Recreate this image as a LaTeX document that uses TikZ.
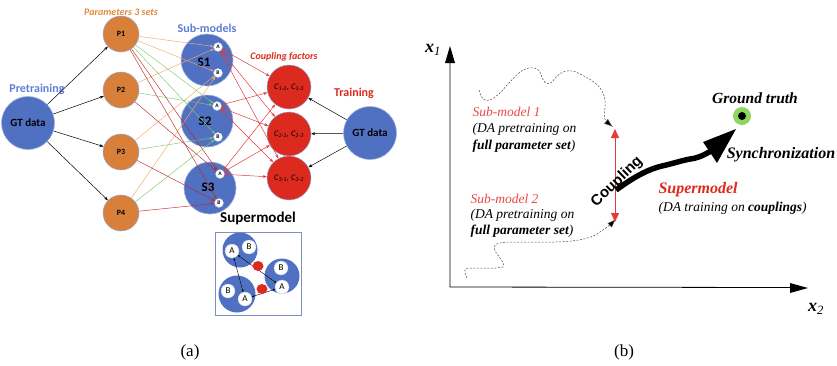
\documentclass[tikz,border=0pt]{standalone}
\usepackage{fontspec}
\setmainfont{Liberation Serif}
\newfontfamily\calfont{Carlito}
\newfontfamily\arialfont{Liberation Sans}
\usetikzlibrary{arrows.meta,shapes.geometric}
\definecolor{nodeblue}{HTML}{5070C2}
\definecolor{labblue}{HTML}{5B7FD6}
\definecolor{porange}{HTML}{D8803A}
\definecolor{labor}{HTML}{E08A40}
\definecolor{cred}{HTML}{DC2A1E}
\definecolor{eorange}{HTML}{F2A868}
\definecolor{egreen}{HTML}{80C86C}
\definecolor{ered}{HTML}{C0282A}
\definecolor{gtgreen}{HTML}{8ED65E}
\definecolor{bred}{HTML}{E8393A}
\definecolor{txtred}{HTML}{E84848}
\definecolor{boxcol}{HTML}{8090C0}
\tikzset{
  bignode/.style={circle, fill=nodeblue, draw=nodeblue!55!white, line width=0.6pt, minimum size=53pt, inner sep=0pt, font=\calfont\bfseries\fontsize{11}{11}\selectfont},
  pnode/.style={circle, fill=porange, draw=nodeblue!60, line width=0.5pt, minimum size=36pt, inner sep=0pt, font=\calfont\bfseries\fontsize{8}{8}\selectfont},
  snode/.style={circle, fill=nodeblue, draw=nodeblue!55!white, line width=0.6pt, minimum size=52pt, inner sep=0pt, font=\calfont\bfseries\fontsize{13}{13}\selectfont},
  abnode/.style={circle, fill=white, draw=nodeblue!40, line width=0.3pt, minimum size=9pt, inner sep=0pt, font=\calfont\bfseries\fontsize{5.5}{5.5}\selectfont},
  cnode/.style={circle, fill=cred, draw=nodeblue!60, line width=0.5pt, minimum size=44pt, inner sep=0pt, font=\calfont\itshape\fontsize{8.5}{8.5}\selectfont},
  inbig/.style={circle, fill=nodeblue, minimum size=35pt, inner sep=0pt},
  insmall/.style={circle, fill=white, draw=nodeblue!40, line width=0.3pt, minimum size=14pt, inner sep=0pt, font=\calfont\fontsize{9}{9}\selectfont},
  inred/.style={ellipse, fill=cred, minimum width=11pt, minimum height=10pt, inner sep=0pt},
  pedge/.style={-{Stealth[length=3.5pt,width=2.5pt]}, line width=0.45pt},
  cedge/.style={{Stealth[length=4pt,width=3pt]}-{Stealth[length=4pt,width=3pt]}, line width=0.5pt, color=bred},
  kedge/.style={-{Stealth[length=4pt,width=3pt]}, line width=0.5pt, color=black},
  lab/.style={font=\calfont\bfseries\fontsize{12}{12}\selectfont},
  rtext/.style={anchor=west, align=left, font=\itshape\fontsize{13.5}{16.5}\selectfont},
  dpath/.style={dashed, dash pattern=on 2pt off 1.5pt, line width=0.5pt, draw=black!70, -{Latex[length=9pt,width=6pt,fill=black]}},
}
\begin{document}
\begin{tikzpicture}[x=1pt,y=-1pt]
\useasboundingbox (0,0) rectangle (837,365);
% ---------- panel (a) ----------
\node[bignode] (gtl) at (28,123) {GT data};
\node[lab, text=labblue] (pretr) at (37,89) {Pretraining};
\node[font=\calfont\bfseries\itshape\fontsize{10}{10}\selectfont, text=labor] (ptitle) at (121,12) {Parameters 3 sets};
\node[pnode] (p1) at (121,34) {P1};
\node[pnode] (p2) at (121,90) {P2};
\node[pnode] (p3) at (121,152) {P3};
\node[pnode] (p4) at (121,213) {P4};
\foreach \p in {p1,p2,p3,p4} \draw[kedge] (gtl) -- (\p);
\node[lab, text=labblue] (stitle) at (207,28) {Sub-models};
\node[snode] (s1) at (207,60) {};
\node[snode] (s2) at (207,121) {};
\node[snode] (s3) at (210,188) {};
\node[font=\calfont\bfseries\fontsize{13}{13}\selectfont] at (204,62) {S1};
\node[font=\calfont\bfseries\fontsize{13}{13}\selectfont] at (205,121) {S2};
\node[font=\calfont\bfseries\fontsize{13}{13}\selectfont] at (208,187) {S3};
\node[abnode] (a1) at (218,47) {A};
\node[abnode] (b1) at (218,73) {B};
\node[abnode] (a2) at (217,106) {A};
\node[abnode] (b2) at (218,137) {B};
\node[abnode] (a3) at (220,174) {A};
\node[abnode] (b3) at (219,203) {B};
% parameter edges
\foreach \s/\t in {p1/a1,p1/b1,p2/a1,p3/b1,p4/b1} \draw[pedge, eorange] (\s) -- (\t);
\foreach \s/\t in {p1/a2,p1/b2,p2/a2,p3/b2,p4/b2} \draw[pedge, egreen] (\s) -- (\t);
\foreach \s/\t in {p1/a3,p1/b3,p2/a3,p3/b3,p4/b3} \draw[pedge, ered] (\s) -- (\t);
% coupling nodes
\node[font=\calfont\bfseries\itshape\fontsize{10}{10}\selectfont, text=cred] (ctitle) at (284,57) {Coupling factors};
\node[cnode] (c1) at (289,87) {C\textsubscript{1-2}, C\textsubscript{1-3}};
\node[cnode] (c2) at (289,134) {C\textsubscript{2-1}, C\textsubscript{2-3}};
\node[cnode] (c3) at (289,178) {C\textsubscript{3-1}, C\textsubscript{3-2}};
\foreach \a in {a1,a2,a3} \foreach \c in {c1,c2,c3} \draw[cedge] (\a) -- (\c);
\node[lab, text=cred] (train) at (354,93) {Training};
\node[bignode] (gtr) at (370,133) {GT data};
\draw[kedge] (gtr) -- (c1);
\draw[kedge] (gtr) -- (c2);
\draw[kedge] (gtr) -- (c3);
% supermodel inset
\node[font=\calfont\bfseries\fontsize{15}{15}\selectfont] (stl) at (258,218) {Supermodel};
\node[draw=boxcol, line width=0.6pt, minimum width=86pt, minimum height=83pt, inner sep=0pt] (ibox) at (258,273.5) {};
\node[inbig] (ic1) at (240,250) {};
\node[inbig] (ic2) at (282,276) {};
\node[inbig, minimum size=37pt] (ic3) at (237,294) {};
\node[insmall] (ia1) at (232,251) {A};
\node[insmall] (ib1) at (249,247) {B};
\node[insmall] (ib2) at (281,268) {B};
\node[insmall] (ia2) at (282,287) {A};
\node[insmall] (ib3) at (228,291) {B};
\node[insmall] (ia3) at (245,299) {A};
\draw[{Stealth[length=2.5pt,width=2pt]}-{Stealth[length=2.5pt,width=2pt]}, line width=0.4pt] (ia1) -- (ia3);
\draw[{Stealth[length=2.5pt,width=2pt]}-{Stealth[length=2.5pt,width=2pt]}, line width=0.4pt] (ia1) -- (ia2);
\draw[{Stealth[length=2.5pt,width=2pt]}-{Stealth[length=2.5pt,width=2pt]}, line width=0.4pt] (ia3) -- (ia2);
\node[inred] (ir1) at (258,266) {};
\node[inred] (ir2) at (262,289) {};
\node[font=\fontsize{17}{17}\selectfont] (capa) at (190,352) {(a)};
% ---------- panel (b) ----------
\coordinate (org) at (450,287);
\coordinate (ytop) at (450,62);
\coordinate (xend) at (790,287.5);
\draw[line width=0.8pt] (ytop) -- (org) -- (xend);
\fill (450,46) -- (445,63) -- (455,63) -- cycle;
\fill (808,288) -- (790,283) -- (790,293) -- cycle;
\node[font=\bfseries\itshape\fontsize{18}{18}\selectfont] (x1) at (433,50) {x\textsubscript{\normalfont\itshape 1}};
\node[font=\bfseries\itshape\fontsize{18}{18}\selectfont] (x2) at (816,309) {x\textsubscript{\normalfont\itshape 2}};
% dashed paths
\draw[dpath] (479,90) .. controls (481,98) and (484,102) .. (490,100) .. controls (500,96) and (510,80) .. (520,72) .. controls (528,66) and (538,66) .. (541,74) .. controls (543,82) and (546,86) .. (552,82) .. controls (558,74) and (566,66) .. (580,74) .. controls (592,80) and (603,86) .. (605,100) .. controls (606,110) and (602,118) .. (613,127);
\draw[dpath] (467,278) .. controls (464,272) and (463,268) .. (470,268) .. controls (480,268) and (495,269) .. (503,267) .. controls (506,262) and (495,254) .. (494,248) .. controls (494,242) and (505,242) .. (520,242) .. controls (550,242) and (585,244) .. (600,232) .. controls (606,228) and (610,225) .. (616,219);
% text
\node[rtext, text=txtred] (sm1) at (469,112) {Sub-model 1};
\node[rtext] (sm1b) at (469,129) {(DA pretraining on};
\node[rtext] (sm1c) at (469,146) {\bfseries full parameter set\mdseries)};
\node[rtext, text=txtred] (sm2) at (467,199) {Sub-model 2};
\node[rtext] (sm2b) at (467,215) {(DA pretraining on};
\node[rtext] (sm2c) at (467,231) {\bfseries full parameter set\mdseries)};
\node[rtext, text=cred, font=\bfseries\itshape\fontsize{16}{16}\selectfont] (sup) at (655,190) {Supermodel};
\node[rtext] (supb) at (655,208) {(DA training on \textbf{couplings})};
\node[font=\bfseries\itshape\fontsize{15.5}{15.5}\selectfont] (gtxt) at (755,98) {Ground truth};
\node[font=\bfseries\itshape\fontsize{16}{16}\selectfont] (sync) at (781,155) {Synchronization};
\node[circle, fill=gtgreen, minimum size=18pt, inner sep=0pt] (gt) at (742,116) {};
\node[circle, fill=black, minimum size=8pt, inner sep=0pt] (gtdot) at (gt) {};
% coupling arrow
\coordinate (cpt) at (615,129);
\coordinate (cpb) at (615,222);
\draw[bred, line width=1pt, {Triangle[length=9pt,width=8pt]}-{Triangle[length=9pt,width=8pt]}] (cpt) -- (cpb);
% wavy synchronization arrow
\draw[line width=5.5pt] (616,190) .. controls (630,180) and (645,170) .. (662,166) .. controls (675,163) and (680,161) .. (690,159) .. controls (698,158) and (702,156) .. (711,151);
\fill (736,129) -- (703,142) -- (717,163) -- cycle;
\node[font=\arialfont\bfseries\fontsize{15}{15}\selectfont, rotate=44] (coup) at (617,182) {Coupling};
\node[font=\fontsize{17}{17}\selectfont] (capb) at (624,352) {(b)};
\end{tikzpicture}
\end{document}
